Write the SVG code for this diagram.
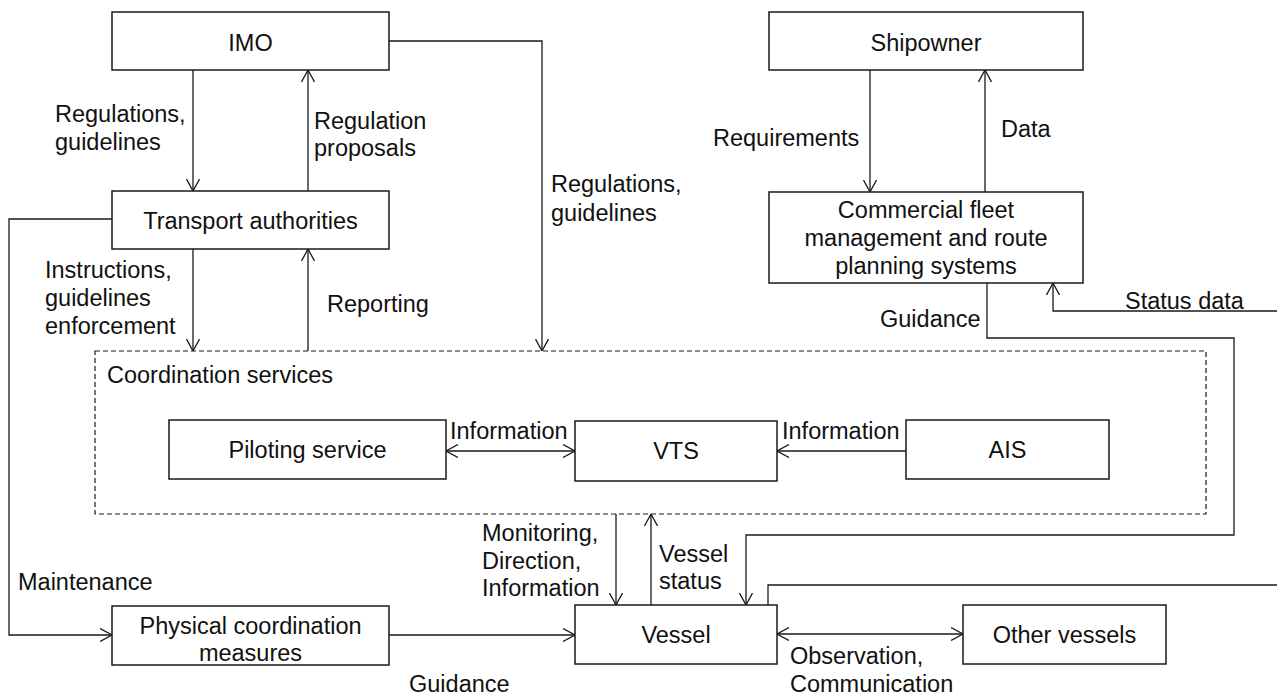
<svg xmlns="http://www.w3.org/2000/svg" width="1277" height="695" viewBox="0 0 1277 695">
<style>
.box{fill:#fff;stroke:#1a1a1a;stroke-width:1.5}
.ln{fill:none;stroke:#1a1a1a;stroke-width:1.3}
.arr{marker-end:url(#ah)}
.bi{marker-start:url(#ah);marker-end:url(#ah)}
text{font-family:"Liberation Sans",Arial,sans-serif;font-size:23.5px;fill:#111}
.c{text-anchor:middle}
</style>
<defs>
<marker id="ah" viewBox="0 0 12 14" refX="12" refY="7" markerWidth="12" markerHeight="14" markerUnits="userSpaceOnUse" orient="auto-start-reverse">
<path d="M0,0.5 L12,7 L0,13.5" fill="none" stroke="#1a1a1a" stroke-width="1.3"/>
</marker>
</defs>
<rect width="1277" height="695" fill="#fff"/>

<g id="coordination-services">
<rect x="95" y="351" width="1111" height="163" fill="none" stroke="#1a1a1a" stroke-width="1.2" stroke-dasharray="5,3"/>
<text x="107" y="383">Coordination services</text>
</g>

<g id="connectors">
<line class="ln arr" x1="193" y1="70" x2="193" y2="191"/>
<line class="ln arr" x1="308" y1="191" x2="308" y2="70"/>
<polyline class="ln arr" points="389,41 542,41 542,351"/>
<line class="ln arr" x1="193" y1="249" x2="193" y2="351"/>
<line class="ln arr" x1="308" y1="351" x2="308" y2="249"/>
<polyline class="ln arr" points="112,219 9,219 9,635 112,635"/>
<line class="ln arr" x1="870" y1="70" x2="870" y2="192"/>
<line class="ln arr" x1="985" y1="192" x2="985" y2="70"/>
<polyline class="ln arr" points="1277,311 1053,311 1053,283"/>
<polyline class="ln arr" points="987,283 987,338 1234,338 1234,535 746,535 746,605"/>
<polyline class="ln" points="768,605 768,585 1277,585"/>
<line class="ln bi" x1="446" y1="451" x2="575" y2="451"/>
<line class="ln arr" x1="906" y1="451" x2="777" y2="451"/>
<line class="ln arr" x1="616" y1="514" x2="616" y2="605"/>
<line class="ln arr" x1="651" y1="605" x2="651" y2="514"/>
<line class="ln arr" x1="389" y1="635" x2="575" y2="635"/>
<line class="ln bi" x1="777" y1="634" x2="963" y2="634"/>
</g>

<g id="labels">
<text x="55" y="122">Regulations,</text>
<text x="55" y="149.5">guidelines</text>
<text x="314" y="128.5">Regulation</text>
<text x="314" y="156">proposals</text>
<text x="551" y="192">Regulations,</text>
<text x="551" y="220.5">guidelines</text>
<text x="45" y="278">Instructions,</text>
<text x="45" y="306">guidelines</text>
<text x="45" y="334">enforcement</text>
<text x="327" y="312">Reporting</text>
<text x="713" y="145.5">Requirements</text>
<text x="1001" y="137">Data</text>
<text x="1125" y="308.5">Status data</text>
<text x="880" y="327">Guidance</text>
<text x="450" y="438.5">Information</text>
<text x="782" y="439">Information</text>
<text x="482" y="541">Monitoring,</text>
<text x="482" y="568.5">Direction,</text>
<text x="482" y="596">Information</text>
<text x="659" y="562">Vessel</text>
<text x="659" y="589">status</text>
<text x="18" y="590">Maintenance</text>
<text x="409" y="692">Guidance</text>
<text x="790" y="663.5">Observation,</text>
<text x="790" y="692">Communication</text>
</g>

<g id="imo"><rect class="box" x="112" y="12" width="277" height="58"/><text class="c" x="250.5" y="50.5">IMO</text></g>
<g id="transport-authorities"><rect class="box" x="112" y="191" width="277" height="58"/><text class="c" x="250.5" y="228.5">Transport authorities</text></g>
<g id="shipowner"><rect class="box" x="769" y="12" width="314" height="58"/><text class="c" x="926" y="50.5">Shipowner</text></g>
<g id="commercial-fleet"><rect class="box" x="769" y="192" width="314" height="91"/>
<text class="c" x="926" y="218">Commercial fleet</text>
<text class="c" x="926" y="246">management and route</text>
<text class="c" x="926" y="274">planning systems</text></g>
<g id="piloting-service"><rect class="box" x="169" y="420" width="277" height="59"/><text class="c" x="307.5" y="458">Piloting service</text></g>
<g id="vts"><rect class="box" x="575" y="421" width="202" height="60"/><text class="c" x="676" y="459">VTS</text></g>
<g id="ais"><rect class="box" x="906" y="420" width="203" height="59"/><text class="c" x="1007.5" y="458">AIS</text></g>
<g id="physical-coordination"><rect class="box" x="112" y="606" width="277" height="59"/>
<text class="c" x="250.5" y="633.5">Physical coordination</text>
<text class="c" x="250.5" y="661">measures</text></g>
<g id="vessel"><rect class="box" x="575" y="605" width="202" height="59"/><text class="c" x="676" y="643">Vessel</text></g>
<g id="other-vessels"><rect class="box" x="963" y="605" width="203" height="59"/><text class="c" x="1064.5" y="643">Other vessels</text></g>
</svg>
